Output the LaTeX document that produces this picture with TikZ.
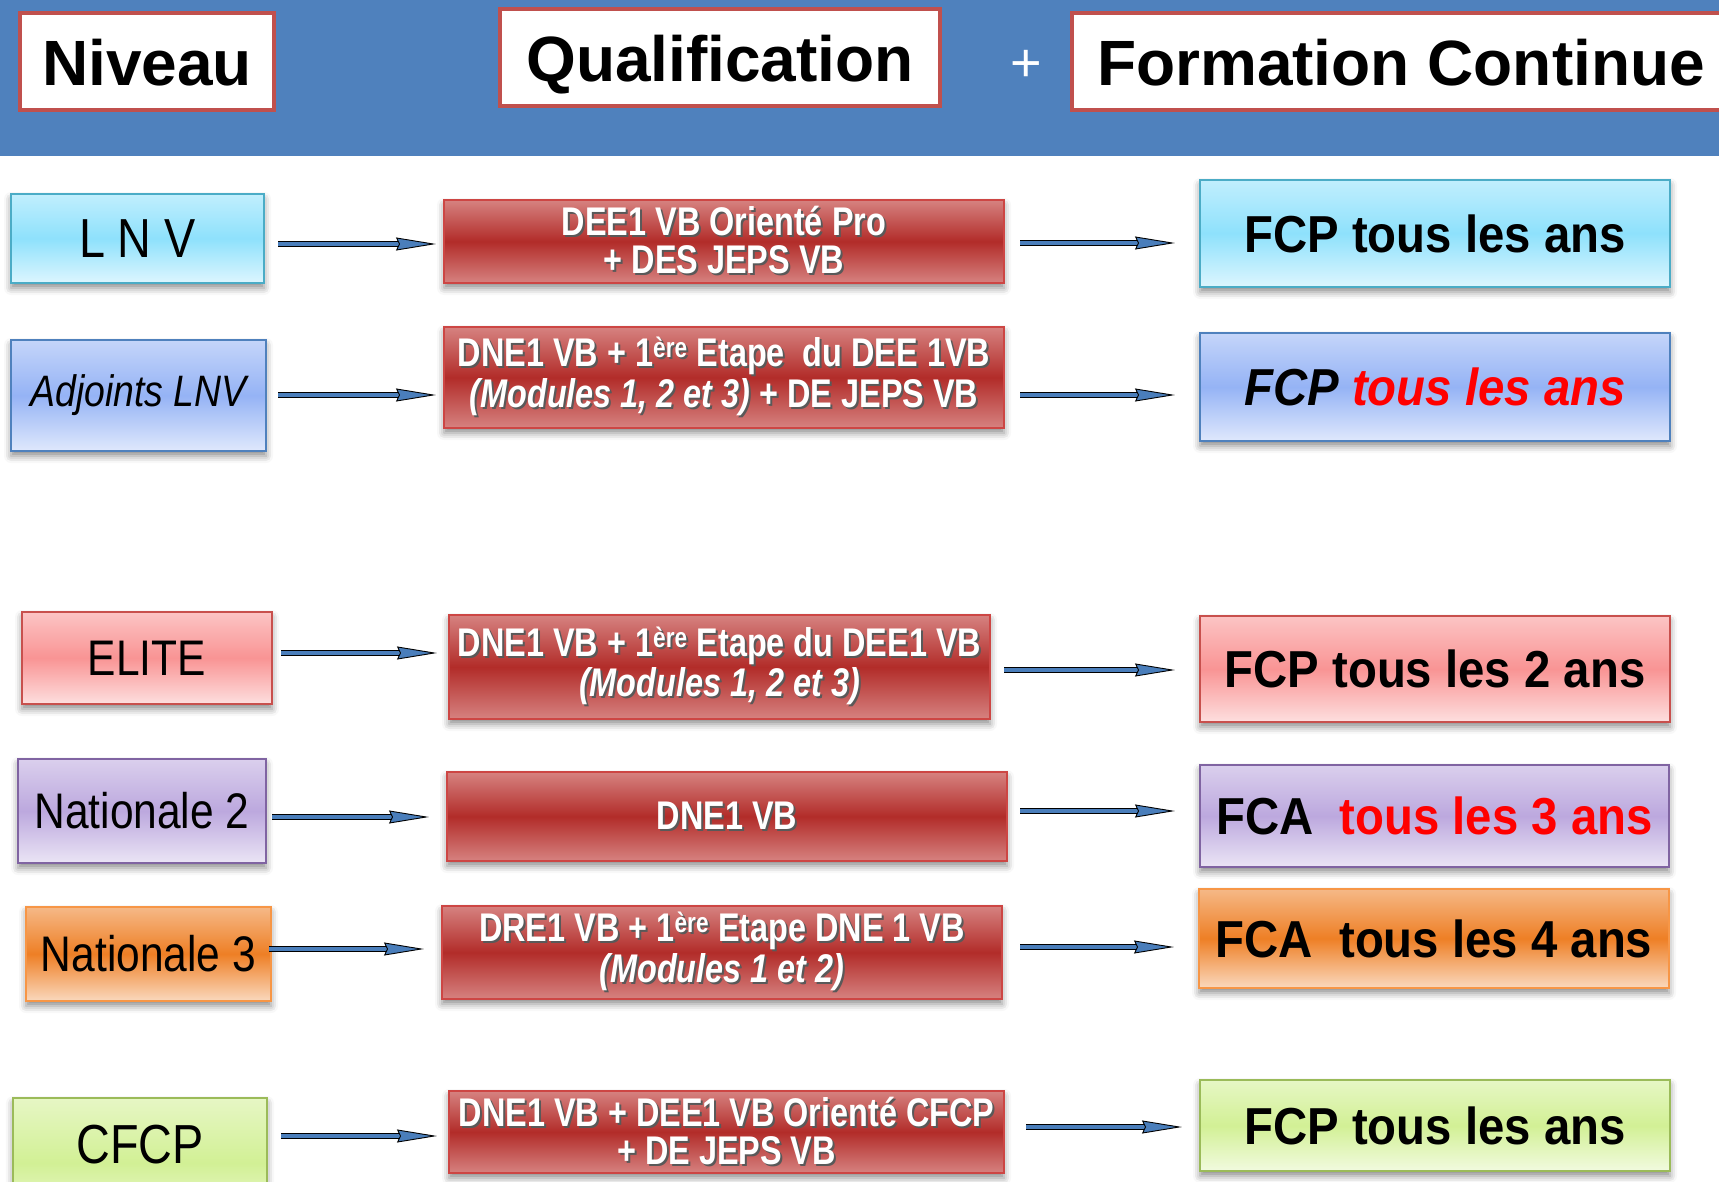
\documentclass[tikz,border=0pt]{standalone}
\usepackage{fontspec}
\setmainfont{Liberation Sans}
\newfontfamily\leftfont[FakeStretch=0.85]{Liberation Sans}
\newfontfamily\midfont[FakeStretch=0.81]{Liberation Sans}
\newfontfamily\rightfont[FakeStretch=0.91]{Liberation Sans}
\usepackage{tikz}
\usetikzlibrary{positioning}
\usetikzlibrary{arrows.meta}
\usetikzlibrary{shadows.blur}

\newcommand{\shd}[1]{\leavevmode\rlap{\kern2pt\raisebox{-2pt}{\color{black!65}#1}}#1}

\begin{document}
\begin{tikzpicture}
    [%%%%%%%%%%%%%%%%%%%%%%%%%%%%%%
        x=1pt, y=-1pt,
        box/.style={rectangle, inner sep=0pt, outer sep=0pt, line width=1.5pt,
            blur shadow={shadow xshift=0pt, shadow yshift=-5pt, shadow blur radius=7pt, shadow opacity=45}},
        tone/.style={draw=#1edge, top color=#1!55!white, bottom color=#1!30!white, middle color=#1},
        lbox/.style={box, font=\leftfont\fontsize{50}{56}\selectfont},
        qbox/.style={box, draw=qedge, top color=qlight, bottom color=qlight, middle color=qdark,
            text=white, align=center, font=\midfont\bfseries\fontsize{40}{38}\selectfont},
        rbox/.style={box, font=\rightfont\bfseries\fontsize{52}{60}\selectfont},
        head/.style={rectangle, draw=headred, line width=3.5pt, fill=white, inner sep=0pt, outer sep=0pt,
            text height=48pt, text depth=0pt, font=\bfseries\fontsize{64}{70}\selectfont},
        fat/.style={draw=black, line width=0.9pt, double=arrowblue, double distance=4pt,
            -{Stealth[length=40pt, width=13pt, inset=3pt, fill=arrowblue, line width=0.9pt]}}
    ]%%%%%%%%%%%%%%%%%%%%%%%%%%%%%%
\definecolor{headblue}{RGB}{79,129,189}
\definecolor{headred}{RGB}{192,80,77}
\definecolor{arrowblue}{RGB}{74,126,187}
\definecolor{qdark}{RGB}{178,44,41}
\definecolor{qlight}{RGB}{214,130,128}
\definecolor{qedge}{RGB}{205,70,68}
\definecolor{lnvc}{RGB}{142,225,252}
\definecolor{lnvcedge}{RGB}{75,172,198}
\definecolor{adjc}{RGB}{149,179,245}
\definecolor{adjcedge}{RGB}{79,129,189}
\definecolor{elitec}{RGB}{249,148,148}
\definecolor{elitecedge}{RGB}{200,80,77}
\definecolor{natc}{RGB}{188,168,222}
\definecolor{natcedge}{RGB}{128,100,162}
\definecolor{orc}{RGB}{238,127,37}
\definecolor{orcedge}{RGB}{247,150,70}
\definecolor{cfc}{RGB}{210,240,149}
\definecolor{cfcedge}{RGB}{155,187,89}

\useasboundingbox (0,0) rectangle (1719,1182);
\clip (0,0) rectangle (1719,1182);

% header
\fill[headblue] (0,0) rectangle (1719,156);
\node[head, minimum width=254, minimum height=97] (niveau) at (147,61.5) {Niveau};
\node[head, minimum width=440, minimum height=97] (qualif) at (720,57.5) {Qualification};
\node[text=white, font=\fontsize{54}{60}\selectfont] (plus) at (1026,66) {+};
\node[head, minimum width=658, minimum height=97] (formation) at (1401,61.5) {Formation Continue};

% niveaux
\node[lbox, tone=lnvc, minimum width=253, minimum height=89, font=\leftfont\fontsize{55}{60}\selectfont] (lnv) at (137.5,238.5) {L N V};
\node[lbox, tone=adjc, minimum width=255, minimum height=111, font=\leftfont\itshape\fontsize{44}{50}\selectfont] (adj) at (138.5,395.5) {Adjoints LNV};
\node[lbox, tone=elitec, minimum width=250, minimum height=92] (elite) at (147,658) {ELITE};
\node[lbox, tone=natc, minimum width=248, minimum height=104] (nat2) at (142,811) {Nationale 2};
\node[lbox, tone=orc, minimum width=245, minimum height=94] (nat3) at (148.5,954) {Nationale 3};
\node[lbox, tone=cfc, minimum width=254, minimum height=130, font=\leftfont\fontsize{55}{60}\selectfont] (cfcp) at (140,1163) {\raisebox{38pt}{CFCP}};

% qualifications
\node[qbox, minimum width=560, minimum height=83] (dee) at (724,241.5)
    {\shd{DEE1 VB Orienté Pro}\\ \shd{+ DES JEPS VB}};
\node[qbox, minimum width=560, minimum height=101] (dne) at (724,377.5)
    {\shd{DNE1 VB + 1\textsuperscript{ère} Etape\ \ du DEE 1VB}\\ \shd{\textit{(Modules 1, 2 et 3)} + DE JEPS VB}};
\node[qbox, minimum width=541, minimum height=104] (dneelite) at (719.5,667)
    {\shd{DNE1 VB + 1\textsuperscript{ère} Etape du DEE1 VB}\\ \shd{\textit{(Modules 1, 2 et 3)}}};
\node[qbox, minimum width=560, minimum height=89] (dnenat) at (727,816.5) {\shd{DNE1 VB}};
\node[qbox, minimum width=560, minimum height=93] (dre) at (722,952.5)
    {\shd{DRE1 VB + 1\textsuperscript{ère} Etape DNE 1 VB}\\ \shd{\textit{(Modules 1 et 2)}}};
\node[qbox, minimum width=555, minimum height=82] (dnecfcp) at (726.5,1132)
    {\shd{DNE1 VB + DEE1 VB Orienté CFCP}\\ \shd{+ DE JEPS VB}};

% formation continue
\node[rbox, tone=lnvc, minimum width=470, minimum height=107] (fcplnv) at (1435,233.5) {FCP tous les ans};
\node[rbox, tone=adjc, minimum width=470, minimum height=108] (fcpadj) at (1435,387)
    {\itshape FCP \textcolor{red}{tous les ans}};
\node[rbox, tone=elitec, minimum width=470, minimum height=106] (fcpelite) at (1435,669) {FCP tous les 2 ans};
\node[rbox, tone=natc, minimum width=469, minimum height=102] (fcanat2) at (1434.5,816)
    {FCA\ \ \textcolor{red}{tous les 3 ans}};
\node[rbox, tone=orc, minimum width=470, minimum height=99] (fcanat3) at (1434,938.5) {FCA\ \ tous les 4 ans};
\node[rbox, tone=cfc, minimum width=470, minimum height=91] (fcpcfcp) at (1435,1125.5) {FCP tous les ans};

% fleches
\draw[fat, shorten <=14pt, shorten >=8pt] (lnv.east |- 0,244) -- (dee.west |- 0,244);
\draw[fat, shorten <=16pt, shorten >=25pt] (dee.east |- 0,243) -- (fcplnv.west |- 0,243);
\draw[fat, shorten <=12pt, shorten >=8pt] (adj.east |- 0,395) -- (dne.west |- 0,395);
\draw[fat, shorten <=16pt, shorten >=25pt] (dne.east |- 0,395) -- (fcpadj.west |- 0,395);
\draw[fat, shorten <=9pt, shorten >=12pt] (elite.east |- 0,653) -- (dneelite.west |- 0,653);
\draw[fat, shorten <=14pt, shorten >=25pt] (dneelite.east |- 0,670) -- (fcpelite.west |- 0,670);
\draw[fat, shorten <=6pt, shorten >=18pt] (nat2.east |- 0,817) -- (dnenat.west |- 0,817);
\draw[fat, shorten <=13pt, shorten >=25pt] (dnenat.east |- 0,811) -- (fcanat2.west |- 0,811);
\draw[fat, shorten <=-2pt, shorten >=18pt] (nat3.east |- 0,949) -- (dre.west |- 0,949);
\draw[fat, shorten <=18pt, shorten >=25pt] (dre.east |- 0,947) -- (fcanat3.west |- 0,947);
\draw[fat, shorten <=14pt, shorten >=12pt] (cfcp.east |- 0,1136) -- (dnecfcp.west |- 0,1136);
\draw[fat, shorten <=22pt, shorten >=18pt] (dnecfcp.east |- 0,1127) -- (fcpcfcp.west |- 0,1127);

\end{tikzpicture}
\end{document}
